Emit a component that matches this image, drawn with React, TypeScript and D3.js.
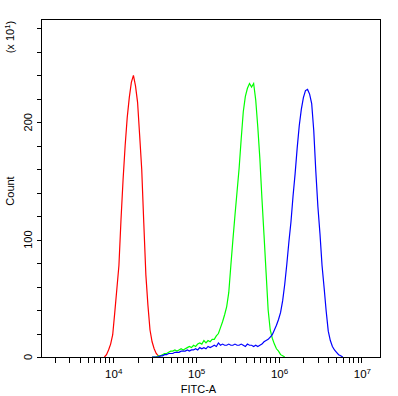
import React from "react";
import * as d3 from "d3";

const W = 398;
const H = 396;
const MARGIN = { top: 19, right: 18, bottom: 39, left: 41 };

// x axis is log10 of FITC-A, y is count (x10)
const X_DOMAIN = [1365, 1.675e7];
const Y_MAX = 288;
const Y_TICKS = [0, 20, 40, 60, 80, 100, 120, 140, 160, 180, 200, 220, 240, 260, 280];
const Y_LABELS = [0, 100, 200];
const DECADES = [4, 5, 6, 7];

// histograms: counts on a log grid, STEP decades apart
const STEP = 0.025;
const RED_START = 3.9;
const redCounts = [
  0, 2, 6, 11, 19, 38, 58, 78, 117, 151, 180, 204, 221, 234, 240, 231, 217, 189,
  160, 114, 70, 44, 23, 13, 7, 3, 1, 0,
];
const GREEN_START = 4.475;
const greenCounts = [
  0, 0, 0, 1, 1, 2, 3, 3, 4, 5, 5, 6, 5, 6, 7, 6, 7, 8, 9, 8, 10, 9, 11, 12, 11, 14,
  12, 14, 13, 15, 15, 18, 20, 25, 30, 36, 43, 55, 78, 100, 121, 141, 161, 186, 209,
  222, 229, 233, 230, 233, 219, 196, 169, 135, 104, 72, 40, 23, 16, 11, 7, 5, 2, 1, 0,
];
const BLUE_START = 4.475;
const blueCounts = [
  0, 0, 0, 0, 1, 1, 2, 2, 3, 3, 3, 4, 4, 4, 5, 5, 5, 6, 5, 6, 6, 7, 6, 8, 7, 8, 7, 9,
  8, 9, 10, 9, 12, 10, 11, 10, 10, 11, 10, 10, 11, 10, 10, 11, 10, 9, 11, 10, 10, 9,
  10, 9, 10, 11, 13, 14, 15, 17, 19, 23, 27, 32, 38, 48, 62, 79, 98, 115, 137, 156,
  178, 197, 211, 221, 227, 228, 224, 216, 193, 158, 128, 105, 78, 59, 39, 22, 14, 9,
  6, 4, 2, 1, 0,
];

const SERIES = [
  { start: RED_START, counts: redCounts, color: "#ff0000" },
  { start: GREEN_START, counts: greenCounts, color: "#00ff00" },
  { start: BLUE_START, counts: blueCounts, color: "#0000ff" },
];

const FONT = "Liberation Sans, Arial, sans-serif";

export default function App() {
  const x = d3
    .scaleLog()
    .domain(X_DOMAIN)
    .range([MARGIN.left, W - MARGIN.right]);
  const y = d3
    .scaleLinear()
    .domain([0, Y_MAX])
    .range([H - MARGIN.bottom, MARGIN.top]);

  const line = d3
    .line<[number, number]>()
    .x((d) => x(d[0]))
    .y((d) => y(d[1]));

  // minor ticks 2..9 in each decade + the decades
  const xTicks: number[] = [];
  for (let e = 3; e <= 7; e++) {
    for (let m = 1; m <= 9; m++) {
      const v = m * Math.pow(10, e);
      if (v >= X_DOMAIN[0] && v <= X_DOMAIN[1]) xTicks.push(v);
    }
  }

  const x0 = MARGIN.left + 0.5;
  const x1 = W - MARGIN.right + 0.5;
  const y0 = MARGIN.top + 0.5;
  const y1 = H - MARGIN.bottom + 0.5;

  return (
    <svg
      width={W}
      height={H}
      style={{ position: "absolute", left: 0, top: 0, background: "#fff" }}
      fontFamily={FONT}
    >
      <g>
        {SERIES.map((s, i) => (
          <path
            key={i}
            d={line(s.counts.map((c, k) => [Math.pow(10, s.start + k * STEP), c])) || ""}
            fill="none"
            stroke={s.color}
            strokeWidth={1.2}
          />
        ))}
      </g>
      <g shapeRendering="crispEdges" stroke="#000">
        <rect x={x0} y={y0} width={x1 - x0} height={y1 - y0} fill="none" />
        {Y_TICKS.map((t) => (
          <line key={t} x1={x0 - 5} x2={x0} y1={Math.round(y(t)) + 0.5} y2={Math.round(y(t)) + 0.5} />
        ))}
        {xTicks.map((t) => (
          <line key={t} x1={Math.round(x(t)) + 0.5} x2={Math.round(x(t)) + 0.5} y1={y1} y2={y1 + 5} />
        ))}
      </g>
      <g fontSize={11} fill="#000">
        {Y_LABELS.map((t) => (
          <text key={t} transform={`translate(32,${y(t)}) rotate(-90)`} textAnchor="middle">
            {t}
          </text>
        ))}
        {DECADES.map((e) => (
          <text key={e} x={x(Math.pow(10, e)) + 1} y={378} textAnchor="middle" fontSize={11.5}>
            10
            <tspan dy={-4} fontSize={8}>
              {e}
            </tspan>
          </text>
        ))}
        <text x={198.5} y={393} textAnchor="middle">
          FITC-A
        </text>
        <text transform="translate(14,191) rotate(-90)" textAnchor="middle">
          Count
        </text>
        <text transform="translate(14,37) rotate(-90)" textAnchor="middle">
          (x 10
          <tspan dy={-4} fontSize={8}>
            1
          </tspan>
          <tspan dy={4}>)</tspan>
        </text>
      </g>
    </svg>
  );
}
